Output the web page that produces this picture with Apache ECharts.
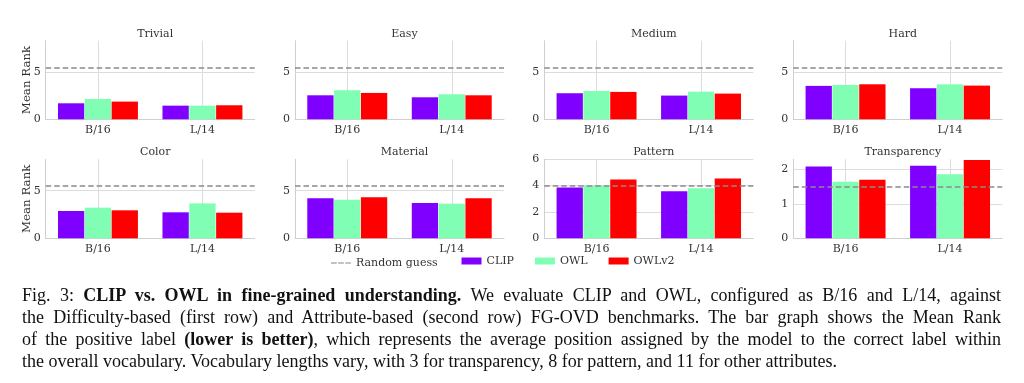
<!DOCTYPE html>
<html>
<head>
<meta charset="utf-8">
<script src="https://cdn.jsdelivr.net/npm/echarts@6/dist/echarts.min.js"></script>
<style>
  html, body { margin: 0; padding: 0; background: #fff; }
  #wrap { position: relative; width: 1024px; height: 383px; overflow: hidden; }
  #chart { position: absolute; left: 0; top: 0; width: 1024px; height: 383px; }
  #caption { position: absolute; left: 22px; top: 284px; width: 979px;
    font-family: "Liberation Serif", "Times New Roman", serif; font-size: 18px; line-height: 22px; color: #111; }
  #caption .j { text-align: justify; text-align-last: justify; white-space: nowrap; }
  #caption .l { text-align: left; white-space: nowrap; }
</style>
</head>
<body>
<div id="wrap">
  <div id="chart"></div>
  <div id="caption">
    <div class="j">Fig. 3: <b>CLIP vs. OWL in fine-grained understanding.</b> We evaluate CLIP and OWL, configured as B/16 and L/14, against</div>
    <div class="j">the Difficulty-based (first row) and Attribute-based (second row) FG-OVD benchmarks. The bar graph shows the Mean Rank</div>
    <div class="j">of the positive label <b>(lower is better)</b>, which represents the average position assigned by the model to the correct label within</div>
    <div class="l">the overall vocabulary. Vocabulary lengths vary, with 3 for transparency, 8 for pattern, and 11 for other attributes.</div>
  </div>
</div>
<script>
// ---- data ----
const panels = ['Trivial', 'Easy', 'Medium', 'Hard', 'Color', 'Material', 'Pattern', 'Transparency'];
const categories = ['B/16', 'L/14'];
const clip  = [[1.70, 1.45], [2.55, 2.34], [2.77, 2.52], [3.55, 3.30], [2.87, 2.73], [4.20, 3.71], [3.85, 3.57], [2.08, 2.10]];
const owl   = [[2.16, 1.45], [3.09, 2.66], [3.01, 2.94], [3.65, 3.72], [3.22, 3.67], [4.06, 3.64], [4.00, 3.80], [1.64, 1.86]];
const owlv2 = [[1.88, 1.49], [2.80, 2.55], [2.91, 2.73], [3.72, 3.58], [2.94, 2.69], [4.30, 4.20], [4.46, 4.54], [1.70, 2.27]];
const randomGuess = [5.5, 5.5, 5.5, 5.5, 5.5, 5.5, 4, 1.5];
const yMax = [8.35, 8.35, 8.35, 8.35, 8.3, 8.3, 6, 2.29];
const yInterval = [5, 5, 5, 5, 5, 5, 2, 1];
const seriesNames = ['CLIP', 'OWL', 'OWLv2'];
const seriesColors = ['#8000ff', '#80ffb4', '#ff0000'];

// ---- layout ----
const FONT = '"DejaVu Serif", serif';
const colLeft = [45.7, 295, 544.3, 793.3];
const gridW = 209;
const rowTop = [40.7, 159.3];
const rowH = [78.6, 79];
const GRID_C = '#dcdcdc';

const grids = [], xAxes = [], yAxes = [], titles = [], series = [];
const values = [clip, owl, owlv2];
// helper axis with points at band edges and centres (used only for vertical grid lines)
const helperTicks = ['e0', 'c0', 'm', 'c1', 'e1'];

panels.forEach((p, i) => {
  const r = Math.floor(i / 4), c = i % 4;
  grids.push({ left: colLeft[c], top: rowTop[r], width: gridW, height: rowH[r], containLabel: false });
  titles.push({
    text: p, left: colLeft[c] + gridW / 2, top: rowTop[r] - 17.2, textAlign: 'center',
    textStyle: { fontFamily: FONT, fontSize: 11, fontWeight: 'normal', color: '#333' }
  });
  xAxes.push({
    type: 'category', gridIndex: i, data: categories,
    axisLine: { show: true, lineStyle: { color: '#cfcfcf', width: 1 } },
    axisTick: { show: false },
    axisLabel: { fontFamily: FONT, fontSize: 11, color: '#333', margin: 5 },
    splitLine: { show: false }
  });
  xAxes.push({
    type: 'category', gridIndex: i, data: helperTicks, boundaryGap: false,
    show: true, axisLine: { show: false }, axisTick: { show: false }, axisLabel: { show: false },
    splitLine: { show: true, interval: (idx) => idx === 1 || idx === 3, lineStyle: { color: GRID_C, width: 1 } }
  });
  const aligned = Math.abs(yMax[i] / yInterval[i] - Math.round(yMax[i] / yInterval[i])) < 1e-9;
  yAxes.push({
    type: 'value', gridIndex: i, min: 0, max: yMax[i], interval: yInterval[i],
    name: c === 0 ? 'Mean Rank' : '', nameLocation: 'middle', nameGap: 13, nameMoveOverlap: false,
    nameTextStyle: { fontFamily: FONT, fontSize: 11.8, color: '#333' },
    axisLine: { show: true, lineStyle: { color: '#cfcfcf', width: 1 } },
    axisTick: { show: false },
    axisLabel: { fontFamily: FONT, fontSize: 11, color: '#333', margin: 5, showMaxLabel: aligned },
    splitLine: { show: true, showMinLine: false, showMaxLine: aligned, lineStyle: { color: GRID_C, width: 1 } }
  });
  series.push({
    name: 'Random guess', type: 'line', xAxisIndex: 2 * i, yAxisIndex: i, data: [], z: 1,
    itemStyle: { color: '#888' }, lineStyle: { color: '#888', type: [5.5, 3], width: 1.5 },
    markLine: {
      silent: true, symbol: 'none', label: { show: false },
      lineStyle: { color: '#8a8a8a', type: [5.5, 3], width: 1.5 },
      data: [{ yAxis: randomGuess[i] }]
    }
  });
  seriesNames.forEach((n, k) => {
    series.push({
      name: n, type: 'bar', xAxisIndex: 2 * i, yAxisIndex: i, data: values[k][i],
      barWidth: 26.3, barGap: '2%', z: 2,
      itemStyle: { color: seriesColors[k] }
    });
  });
});

const chart = echarts.init(document.getElementById('chart'), null, { renderer: 'canvas' });
chart.setOption({
  animation: false,
  backgroundColor: '#fff',
  title: titles,
  grid: grids,
  xAxis: xAxes,
  yAxis: yAxes,
  legend: [
    {
      data: [{ name: 'Random guess', icon: 'path://M0,0h6v1h-6zM7.5,0h6v1h-6zM15,0h6v1h-6z' }],
      left: 326, top: 252.5, itemWidth: 20, itemHeight: 1.5, itemGap: 10,
      textStyle: { fontFamily: FONT, fontSize: 11, color: '#333' }
    },
    {
      data: seriesNames, icon: 'rect',
      left: 456.5, top: 250.5, itemWidth: 20, itemHeight: 7, itemGap: 21,
      textStyle: { fontFamily: FONT, fontSize: 11, color: '#333' }
    }
  ],
  series: series
});
</script>
</body>
</html>
